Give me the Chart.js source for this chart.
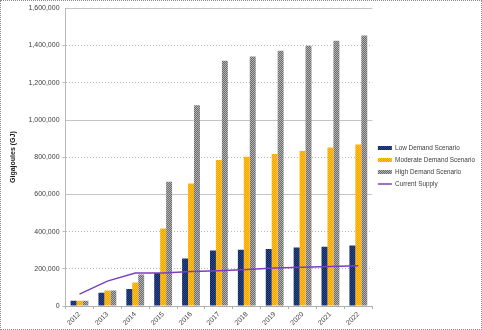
<!DOCTYPE html>
<html>
<head>
<meta charset="utf-8">
<script src="https://cdn.jsdelivr.net/npm/chart.js@4.4.1/dist/chart.umd.min.js"></script>
<style>
  html, body { margin: 0; padding: 0; background: #fff; }
  #wrap { width: 480px; height: 328px; border: 1px dotted #8a8a8a; }
</style>
</head>
<body>
<div id="wrap"><canvas id="myChartGJ" width="480" height="328"></canvas></div>
<script>
// annees et scenarios de demande (GJ)
const annees = ["2012", "2013", "2014", "2015", "2016", "2017", "2018", "2019", "2020", "2021", "2022"];
const demandeBasse = [28000, 72000, 91000, 177000, 255000, 298000, 302000, 307000, 314000, 319000, 325000];
const demandeModeree = [28000, 84000, 127000, 417000, 658000, 785000, 802000, 817000, 833000, 852000, 868000];
const demandeHaute = [28000, 84000, 170000, 668000, 1079000, 1318000, 1341000, 1371000, 1398000, 1425000, 1453000];
const offreActuelle = [64000, 134000, 178000, 178000, 185000, 189000, 196000, 205000, 209000, 212000, 216000];
const lignesPleines = [600000, 1000000, 1600000];

// petit motif tramé pour imiter le remplissage des barres
const motif = (c1, c2) => {
  const cv = document.createElement("canvas");
  cv.width = 2;
  cv.height = 2;
  const c = cv.getContext("2d");
  c.fillStyle = c1;
  c.fillRect(0, 0, 2, 2);
  c.fillStyle = c2;
  c.fillRect(0, 0, 1, 1);
  c.fillRect(1, 1, 1, 1);
  return c.createPattern(cv, "repeat");
};

const police = { family: "'Liberation Sans', Arial, sans-serif", size: 7 };

//? certaines lignes de grille sont pleines, les autres pointillées
const grillePleine = {
  id: "grillePleine",
  beforeDatasetsDraw(chart) {
    const { ctx, chartArea, scales } = chart;
    ctx.save();
    ctx.strokeStyle = "#c4c4c4";
    ctx.lineWidth = 1;
    lignesPleines.forEach((v) => {
      const y = Math.round(scales.y.getPixelForValue(v)) + 0.5;
      ctx.beginPath();
      ctx.moveTo(chartArea.left, y);
      ctx.lineTo(chartArea.right, y);
      ctx.stroke();
    });
    ctx.restore();
  },
};

let constructionGraphiqueGJ = () => {
  const ctx = document.getElementById("myChartGJ").getContext("2d");

  const data = {
    labels: annees,
    datasets: [
      {
        type: "line",
        label: "Current Supply",
        data: offreActuelle,
        borderColor: "#7a3fc0",
        backgroundColor: "#7a3fc0",
        borderWidth: 1.5,
        pointRadius: 0,
        tension: 0,
        order: 0,
      },
      {
        label: "Low Demand Scenario",
        data: demandeBasse,
        backgroundColor: motif("#14225a", "#2a4c88"),
        borderWidth: 0,
        order: 1,
      },
      {
        label: "Moderate Demand Scenario",
        data: demandeModeree,
        backgroundColor: motif("#ffa000", "#ffc420"),
        borderWidth: 0,
        order: 1,
      },
      {
        label: "High Demand Scenario",
        data: demandeHaute,
        backgroundColor: motif("#6a6a6a", "#b4b4b4"),
        borderWidth: 0,
        order: 1,
      },
    ],
  };

  const ordreLegende = ["Low Demand Scenario", "Moderate Demand Scenario", "High Demand Scenario", "Current Supply"];

  const options = {
    responsive: false,
    animation: { duration: 0 },
    layout: { padding: { left: 8, right: -4, top: 3, bottom: 1 } },
    datasets: {
      bar: { barPercentage: 1, categoryPercentage: 0.64 },
    },
    plugins: {
      tooltip: { enabled: false },
      legend: {
        position: "right",
        align: "center",
        labels: {
          color: "#404040",
          font: { family: police.family, size: 6.4 },
          usePointStyle: true,
          pointStyleWidth: 14,
          boxWidth: 14,
          boxHeight: 4,
          padding: 5.6,
          generateLabels: (chart) => {
            const items = Chart.defaults.plugins.legend.labels.generateLabels(chart);
            items.forEach((it) => {
              const ds = chart.data.datasets[it.datasetIndex];
              if (ds.type === "line") {
                it.pointStyle = "line";
                it.strokeStyle = ds.borderColor;
                it.lineWidth = 1.5;
              } else {
                it.pointStyle = "rect";
                it.lineWidth = 0;
              }
            });
            return items.sort((a, b) => ordreLegende.indexOf(a.text) - ordreLegende.indexOf(b.text));
          },
        },
      },
    },
    scales: {
      x: {
        grid: { display: true, drawOnChartArea: false, drawTicks: true, tickLength: 3, color: "#b0b0b0", offset: true },
        border: { color: "#b0b0b0" },
        ticks: { color: "#404040", font: police, minRotation: 45, maxRotation: 45, padding: 1 },
      },
      y: {
        min: 0,
        max: 1600000,
        grid: {
          color: (c) => (lignesPleines.includes(c.tick && c.tick.value) ? "rgba(0,0,0,0)" : "#b8b8b8"),
          tickLength: 3,
        },
        border: { color: "#b8b8b8", dash: [1, 2] },
        ticks: {
          stepSize: 200000,
          color: "#404040",
          font: police,
          padding: 3,
          callback: (v) => v.toLocaleString("en-US"),
        },
        title: {
          display: true,
          text: "Gigajoules (GJ)",
          color: "#202020",
          font: { family: police.family, size: 7, weight: "bold" },
          padding: { top: 0, bottom: 8 },
        },
      },
    },
  };

  new Chart(ctx, { type: "bar", data, options, plugins: [grillePleine] });
};

constructionGraphiqueGJ();
</script>
</body>
</html>
